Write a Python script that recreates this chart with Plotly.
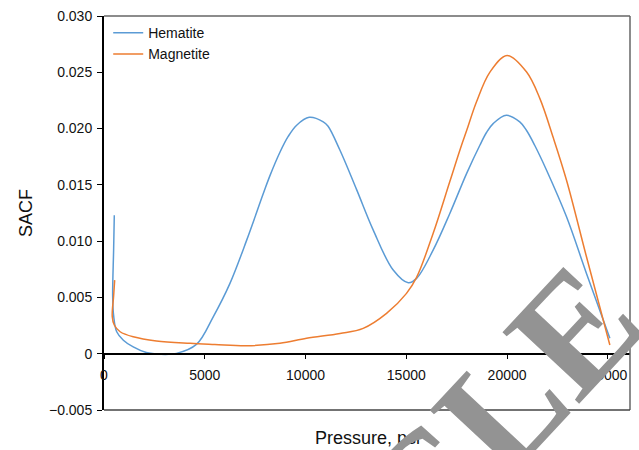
import plotly.graph_objects as go

# Hematite SACF vs. pressure
hem_p = [511, 477, 430, 477, 630, 960, 1450, 2100, 2780, 3600, 4600, 5420, 6250, 7080,
         7900, 8230, 8730, 9140, 9560, 10180, 10880, 11120, 11710, 12530, 13360, 14350,
         15100, 15510, 16330, 17160, 17990, 18650, 18980, 19310, 19970, 20630, 20960,
         21370, 21960, 22950, 23940, 25100]
hem_v = [0.0123, 0.0092, 0.0051, 0.0034, 0.00195, 0.0012, 0.0006, 0.0001, -0.00005, 0.00003,
         0.00085, 0.00328, 0.00625, 0.01009, 0.0142, 0.0158, 0.0179, 0.0193, 0.0203,
         0.0210, 0.0206, 0.0202, 0.01807, 0.0146, 0.01098, 0.00743, 0.0063, 0.00669,
         0.0092, 0.01246, 0.016, 0.01852, 0.01965, 0.02044, 0.02118, 0.02059, 0.01985,
         0.01852, 0.0163, 0.01216, 0.00713, 0.00137]

# Magnetite SACF vs. pressure
mag_p = [530, 477, 410, 510, 800, 1450, 2600, 4270, 5500, 7080, 8730, 10050, 11710, 12860,
         14020, 15010, 15510, 16330, 17160, 17740, 17990, 18480, 19150, 20000, 20970, 21630,
         22290, 22950, 23940, 25100]
mag_v = [0.00654, 0.0051, 0.0033, 0.00255, 0.00195, 0.0015, 0.00113, 0.00092, 0.00082,
         0.00071, 0.00092, 0.00137, 0.0018, 0.00225, 0.00358, 0.00536, 0.00678, 0.01068,
         0.0153, 0.01852, 0.0198, 0.02236, 0.02502, 0.0265, 0.02502, 0.02266, 0.0192,
         0.01541, 0.00861, 0.00077]

x_ticks = [0, 5000, 10000, 15000, 20000, 25000]
y_ticks = [-0.005, 0, 0.005, 0.010, 0.015, 0.020, 0.025, 0.030]
y_tick_text = ["\u22120.005", "0", "0.005", "0.010", "0.015", "0.020", "0.025", "0.030"]

Y_MIN, Y_MAX = -0.005, 0.030
FONT = "Liberation Sans, Arial, sans-serif"

fig = go.Figure()
fig.add_trace(go.Scatter(x=hem_p, y=hem_v, mode="lines", name="Hematite",
                         line=dict(color="#5B9BD5", width=1.5, shape="spline", smoothing=1.0)))
fig.add_trace(go.Scatter(x=mag_p, y=mag_v, mode="lines", name="Magnetite",
                         line=dict(color="#ED7D31", width=1.5, shape="spline", smoothing=1.0)))

fig.update_layout(
    width=639, height=450,
    margin=dict(l=104, r=9, t=16, b=40),
    paper_bgcolor="white", plot_bgcolor="white",
    font=dict(family=FONT, size=14, color="#111111"),
    showlegend=True,
    legend=dict(x=0.008, y=0.997, xanchor="left", yanchor="top",
                bgcolor="rgba(0,0,0,0)", font=dict(size=14), itemwidth=30,
                tracegroupgap=0),
    xaxis=dict(range=[0, 26100], anchor="free", position=(0 - Y_MIN) / (Y_MAX - Y_MIN),
               showline=True, linecolor="black", linewidth=1.5,
               ticks="outside", ticklen=5, tickcolor="black", tickwidth=1,
               ticklabelstandoff=4,
               tickvals=x_ticks, ticktext=[str(v) for v in x_ticks],
               showgrid=False, zeroline=False, tickfont=dict(size=14)),
    yaxis=dict(range=[Y_MIN, Y_MAX], showline=True, linecolor="black", linewidth=2,
               ticks="outside", ticklen=5, tickcolor="black", tickwidth=1,
               ticklabelstandoff=2,
               tickvals=y_ticks, ticktext=y_tick_text,
               showgrid=False, zeroline=False, tickfont=dict(size=14),
               title=dict(text="SACF", font=dict(size=18), standoff=12)),
    shapes=[
        dict(type="line", xref="paper", yref="paper", x0=0, x1=1, y0=1, y1=1,
             line=dict(color="#666666", width=1.5)),
        dict(type="line", xref="paper", yref="paper", x0=1, x1=1, y0=0, y1=1,
             line=dict(color="#666666", width=1.5)),
        dict(type="line", xref="paper", yref="paper", x0=0, x1=1, y0=0, y1=0,
             line=dict(color="#444444", width=1.5)),
    ],
    annotations=[
        dict(text="Pressure, psi", xref="paper", yref="paper", x=0.5, y=-0.07,
             xanchor="center", yanchor="middle", showarrow=False,
             font=dict(size=18, family=FONT, color="#111111")),
        dict(text="<b>CLE</b>", xref="paper", yref="paper", x=0.75, y=-0.003,
             xanchor="center", yanchor="middle", showarrow=False, textangle=-47,
             font=dict(size=160, family="Liberation Serif, Times New Roman, serif",
                       color="#939393")),
    ],
)

fig.write_html("out.html")
